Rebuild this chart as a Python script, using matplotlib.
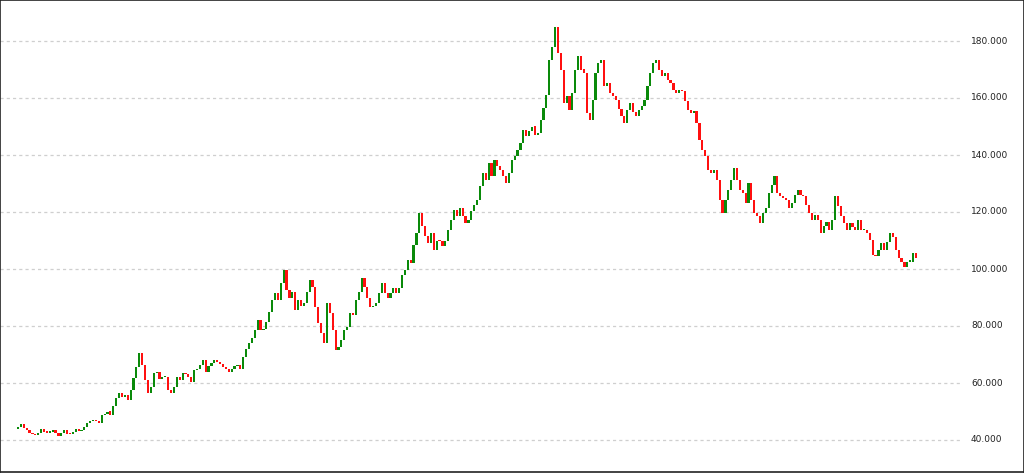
import numpy as np
import matplotlib
matplotlib.use("Agg")
import matplotlib.pyplot as plt
import matplotlib.transforms as mtransforms

# closing prices, left to right
closes = [
    44.5, 45.6, 44.2, 43.5, 42.3, 42.0, 41.8, 42.4, 43.9, 42.9,
    42.6, 42.9, 43.5, 42.5, 41.4, 42.4, 43.5, 42.2, 42.0, 42.8,
    43.8, 43.2, 43.5, 44.6, 46.0, 46.5, 47.0, 46.5, 46.0, 48.8,
    49.2, 50.0, 48.8, 52.0, 54.7, 56.5, 55.0, 55.8, 54.0, 57.5,
    61.7, 65.6, 70.5, 66.3, 61.0, 56.5, 58.6, 63.5, 64.0, 61.5,
    62.0, 62.0, 57.5, 56.5, 58.6, 62.0, 61.0, 63.5, 63.0, 62.0,
    60.5, 64.6, 65.0, 66.3, 68.0, 64.0, 66.0, 67.0, 68.0, 67.5,
    66.5, 65.6, 65.0, 64.0, 65.0, 66.0, 66.3, 65.0, 69.0, 72.0,
    74.0, 75.8, 78.6, 82.0, 78.6, 79.0, 81.4, 85.0, 89.0, 91.5,
    89.0, 95.0, 99.6, 92.6, 90.0, 92.0, 85.6, 89.0, 87.0, 88.0,
    92.0, 96.0, 93.7, 86.7, 81.0, 77.6, 74.0, 88.0, 84.6, 78.6,
    71.6, 72.6, 75.0, 78.6, 79.6, 84.6, 84.0, 89.0, 92.0, 97.0,
    93.7, 90.0, 86.7, 87.0, 88.0, 91.5, 95.0, 91.5, 90.0, 91.5,
    93.3, 91.5, 93.3, 98.0, 99.6, 103.0, 102.0, 108.4, 112.6, 119.6,
    115.0, 111.5, 109.0, 112.6, 106.8, 110.0, 109.7, 108.0, 110.0, 113.8,
    117.3, 120.8, 118.5, 121.4, 118.5, 116.0, 117.3, 120.2, 122.6, 124.3,
    129.0, 133.7, 131.3, 137.2, 132.5, 138.4, 136.0, 134.9, 132.5, 130.2,
    133.7, 138.4, 139.5, 141.9, 144.2, 148.9, 146.6, 148.3, 150.0, 147.1,
    147.7, 152.4, 156.5, 161.0, 173.5, 178.0, 185.0, 175.8, 170.0, 158.2,
    160.6, 155.9, 161.8, 170.0, 174.6, 170.0, 168.8, 154.7, 152.4, 159.4,
    168.8, 172.3, 173.5, 164.1, 165.3, 161.8, 160.6, 159.4, 156.0, 153.6,
    151.2, 155.9, 158.2, 155.0, 153.6, 155.9, 157.1, 159.4, 164.1, 168.8,
    172.3, 173.5, 170.0, 167.6, 168.8, 166.4, 165.3, 162.9, 161.8, 162.9,
    162.3, 158.8, 155.9, 154.7, 155.3, 151.2, 145.4, 141.9, 139.5, 134.9,
    133.7, 134.9, 131.3, 124.3, 119.6, 124.3, 127.8, 131.3, 135.4, 131.3,
    127.8, 126.7, 123.2, 130.2, 124.3, 119.6, 118.5, 116.1, 119.6, 121.5,
    126.7, 129.6, 132.5, 126.7, 125.5, 124.9, 124.3, 121.4, 123.2, 126.1,
    127.8, 126.1, 125.5, 122.6, 119.6, 117.3, 119.1, 117.3, 112.6, 115.0,
    116.4, 113.8, 117.3, 125.5, 122.0, 118.5, 116.1, 113.8, 116.1, 114.9,
    113.8, 117.3, 113.8, 113.8, 112.6, 110.2, 104.9, 104.4, 106.7, 109.0,
    106.7, 109.6, 112.6, 111.4, 106.7, 103.8, 102.6, 100.8, 102.6, 102.6,
    105.5, 103.8,
]
first_open = 44.0
price_ticks = [40, 60, 80, 100, 120, 140, 160, 180]

W, H = 1024, 474
fig = plt.figure(figsize=(W / 100, H / 100), dpi=100)
ax = fig.add_axes([0, 2 / H, 1, 1 - 2 / H])

n = len(closes)
idx = np.arange(n)
c = np.array(closes)
o = np.concatenate([[first_open], c[:-1]])
up = c >= o
lo = np.minimum(o, c)
hgt = np.maximum(np.abs(c - o), 0.4)

ax.bar(idx[up], hgt[up], bottom=lo[up], width=0.75, color="#0a8a0a",
       linewidth=0, zorder=3)
ax.bar(idx[~up], hgt[~up], bottom=lo[~up], width=0.75, color="#ff1010",
       linewidth=0, zorder=3)

# pixel geometry: first candle at x=18, last at x=916; 180 at y=41, 40 at y=440
ppi = (916 - 18) / (n - 1)
ax.set_xlim(-18 / ppi, (n - 1) + (W - 916) / ppi)
ppu = (440 - 41) / 140.0
ax.set_ylim(180 - (472 - 41) / ppu, 180 + 41 / ppu)

blend = mtransforms.blended_transform_factory(ax.transAxes, ax.transData)
for t in price_ticks:
    ax.axhline(t, xmin=0, xmax=960 / W, color="#cfcfcf", lw=0.9,
               ls=(0, (2.5, 2.5)), zorder=1)
    ax.text(971 / W, t, f"{t:.3f}", transform=blend,
            ha="left", va="center", fontsize=6.5, color="#222222")

ax.set_xticks([])
ax.set_yticks([])
for s in ax.spines.values():
    s.set_color("#222222")
    s.set_linewidth(1.2)

fig.savefig("out.png", dpi=100)
